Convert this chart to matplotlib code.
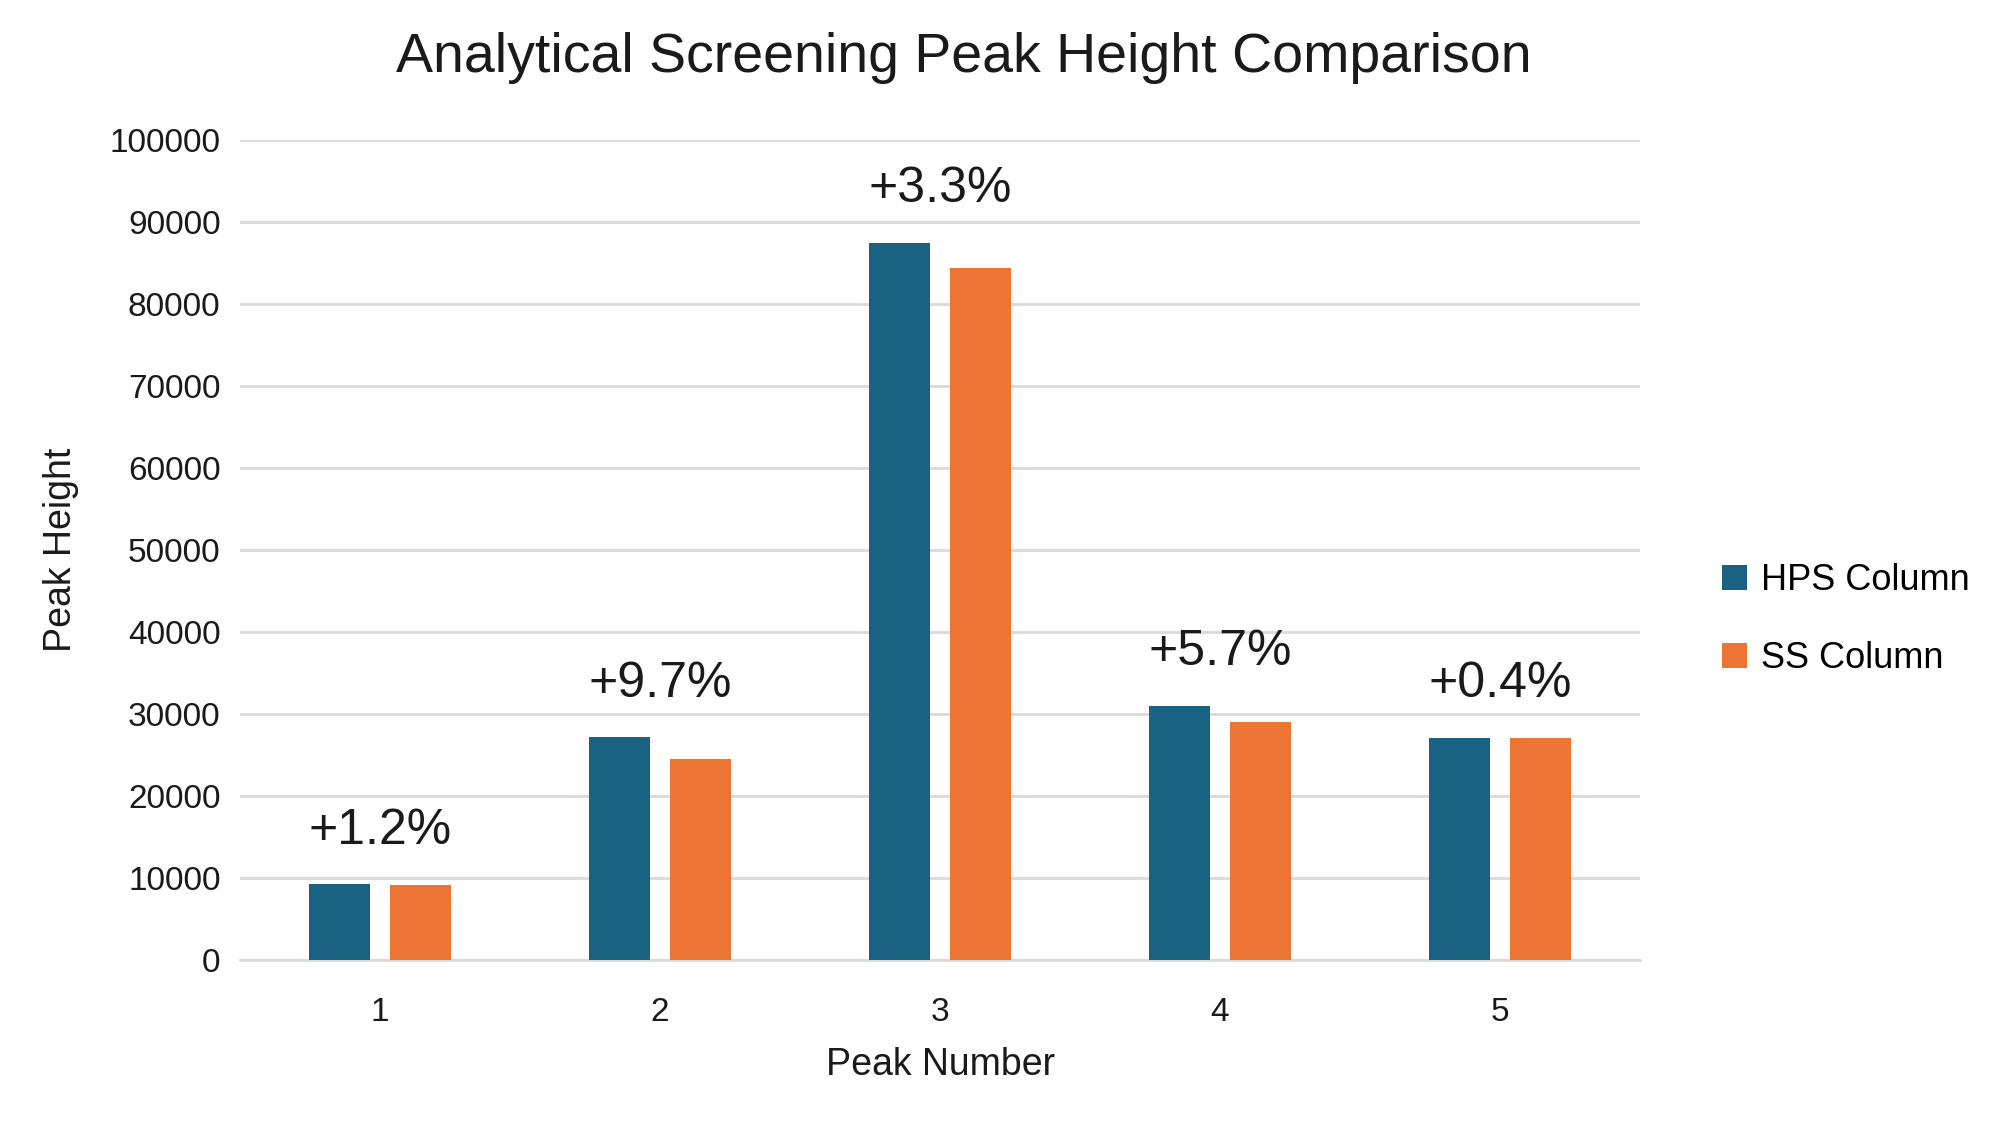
import matplotlib
matplotlib.use("Agg")
import matplotlib.pyplot as plt
import numpy as np

plt.rcParams['font.family'] = ['Liberation Sans', 'DejaVu Sans']

peaks = ["1", "2", "3", "4", "5"]
hps = [9300, 27200, 87400, 31000, 27100]
ss = [9250, 24500, 84300, 29100, 27050]
labels = ["+1.2%", "+9.7%", "+3.3%", "+5.7%", "+0.4%"]
yticks = list(range(0, 100001, 10000))

fig = plt.figure(figsize=(20, 11.26), dpi=100)
ax = fig.add_axes([0.12, 0.147, 0.70, 0.729])
x = np.arange(len(peaks))
w = 0.22
ax.bar(x - 0.145, hps, w, color="#1A6282", label="HPS Column", zorder=3)
ax.bar(x + 0.145, ss, w, color="#EC7533", label="SS Column", zorder=3)
for i, t in enumerate(labels):
    ax.annotate(t, (x[i], max(hps[i], ss[i])), xytext=(0, 22), textcoords="offset points",
                ha="center", va="bottom", fontsize=36, color="#1a1a1a")
ax.set_ylim(0, 100000)
ax.set_xlim(-0.5, 4.5)
ax.set_yticks(yticks)
ax.set_yticklabels([str(v) for v in yticks])
ax.set_xticks(x)
ax.set_xticklabels(peaks)
ax.grid(axis="y", color="#d9d9d9", linewidth=2, zorder=0)
for s in ["top", "right", "left"]:
    ax.spines[s].set_visible(False)
ax.spines["bottom"].set_color("#d9d9d9")
ax.spines["bottom"].set_linewidth(2)
ax.tick_params(length=0, labelsize=24, colors="#1a1a1a", pad=14)
ax.tick_params(axis="x", pad=26)
ax.set_xlabel("Peak Number", fontsize=27, color="#1a1a1a", labelpad=14)
ax.set_ylabel("Peak Height", fontsize=27, color="#1a1a1a", labelpad=22)
fig.suptitle("Analytical Screening Peak Height Comparison", fontsize=40, color="#1a1a1a", x=0.482, y=0.972)
ax.legend(loc="center left", bbox_to_anchor=(1.035, 0.415), frameon=False, fontsize=26,
          handlelength=0.7, handleheight=0.7, handletextpad=0.4, labelspacing=1.2)
fig.savefig("out.png", dpi=100)
